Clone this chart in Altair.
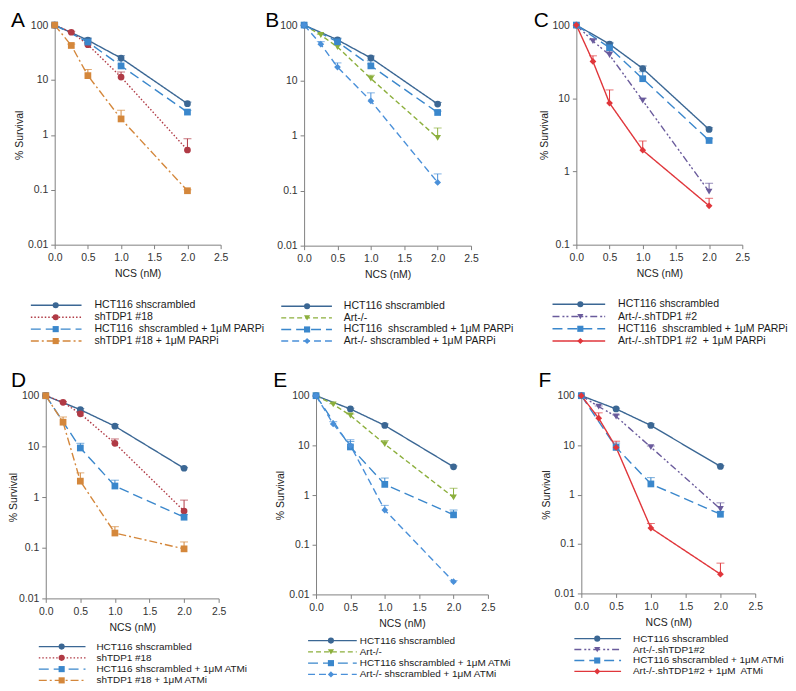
import altair as alt
import pandas as pd

# ---------------- data ----------------
X4 = [0.0, 0.5, 1.0, 2.0]
X5 = [0.0, 0.25, 0.5, 1.0, 2.0]
Y_TICKS = [0.01, 0.1, 1, 10, 100]
X_TICKS = [0.0, 0.5, 1.0, 1.5, 2.0, 2.5]

L_HCT = "HCT116 shscrambled"
L_TDP = "shTDP1 #18"
L_HCTP = "HCT116\u00a0 shscrambled + 1\u03bcM PARPi"
L_TDPP = "shTDP1 #18 + 1\u03bcM PARPi"
L_ART = "Art-/-"
L_ARTP = "Art-/- shscrambled + 1\u03bcM PARPi"
L_ATDP = "Art-/-.shTDP1 #2"
L_ATDPP = "Art-/-.shTDP1 #2\u00a0 + 1\u03bcM PARPi"
L_HCTA = "HCT116 shscrambled + 1\u03bcM ATMi"
L_TDPA = "shTDP1 #18 + 1\u03bcM ATMi"
L_ARTA = "Art-/- shscrambled + 1\u03bcM ATMi"
L_ATDP2 = "Art-/-.shTDP1#2"
L_ATDPA = "Art-/-.shTDP1#2 + 1\u03bcM\u00a0 ATMi"

# Panel A
A_hct = [100, 53, 25, 3.7];            A_hct_up = [100, 58, 27.5, 3.95]
A_tdp = [100, 74, 44, 11.3, 0.53];     A_tdp_up = [100, 77, 47, 14, 0.85]
A_hctp = [100, 49, 18, 2.6];           A_hctp_up = [100, 56, 22.5, 2.8]
A_tdpp = [100, 42.5, 12, 1.95, 0.096]; A_tdpp_up = [100, 45, 15.5, 2.8, 0.1]
# Panel B
B_hct = [100, 54, 25.3, 3.7];          B_hct_up = [100, 58, 27.5, 3.95]
B_art = [100, 66, 40, 10.7, 0.9];      B_art_up = [100, 68, 44, 12.3, 1.36]
B_hctp = [100, 49.7, 18.2, 2.6];       B_hctp_up = [100, 56, 22.5, 2.75]
B_artp = [100, 45, 17.3, 4.2, 0.14];   B_artp_up = [100, 50, 20.6, 5.9, 0.2]
# Panel C
C_hct = [100, 55, 25.5, 3.75];         C_hct_up = [100, 58, 27.5, 3.95]
C_atdp = [100, 60.5, 39, 9.3, 0.53];   C_atdp_up = [100, 63, 44, 10, 0.69]
C_hctp = [100, 49, 18.5, 2.65];        C_hctp_up = [100, 56, 23, 2.8]
C_atdpp = [100, 31.8, 8.6, 1.95, 0.34]; C_atdpp_up = [100, 38, 13, 2.6, 0.43]
# Panel D
D_hct = [100, 53, 25, 3.7];            D_hct_up = [100, 56, 27, 3.85]
D_tdp = [100, 74, 44, 11.5, 0.53];     D_tdp_up = [100, 77, 47, 14, 0.87]
D_hcta = [100, 9.3, 1.65, 0.4];        D_hcta_up = [100, 11.5, 2.15, 0.45]
D_tdpa = [100, 30, 2.06, 0.195, 0.095]; D_tdpa_up = [100, 38, 3.0, 0.26, 0.13]
# Panel E
E_hct = [100, 54, 25.2, 3.7];          E_hct_up = [100, 56, 27, 3.85]
E_art = [100, 67, 40, 10.6, 0.9];      E_art_up = [100, 69, 43, 12.5, 1.37]
E_hcta = [100, 9.3, 1.64, 0.4];        E_hcta_up = [100, 12, 2.2, 0.5]
E_arta = [100, 27, 10, 0.5, 0.018];    E_arta_up = [100, 30, 13, 0.62, 0.019]
# Panel F
F_hct = [100, 54, 25, 3.7];            F_hct_up = [100, 56, 27, 3.85]
F_atdp = [100, 60, 38, 9.1, 0.51];     F_atdp_up = [100, 62, 41, 9.6, 0.68]
F_hcta = [100, 9.0, 1.64, 0.4];        F_hcta_up = [100, 11, 2.2, 0.45]
F_atdpa = [100, 35, 9, 0.21, 0.0245];  F_atdpa_up = [100, 45, 12, 0.26, 0.041]

# ---------------- styles ----------------
STY = {
    "hct":  dict(color="#3b6794", dash=[1, 0], shape="circle"),
    "tdp":  dict(color="#b03a45", dash=[1.5, 2], shape="circle"),
    "hctp": dict(color="#3a87cc", dash=[10, 5], shape="square"),
    "tdpp": dict(color="#d4873b", dash=[8, 3, 2, 3], shape="square"),
    "art":  dict(color="#8caf3c", dash=[5, 3], shape="triangle-down"),
    "artp": dict(color="#4a90d9", dash=[7, 4], shape="diamond"),
    "atdp": dict(color="#6a5b9c", dash=[7, 3, 2, 2, 2, 3], shape="triangle-down"),
    "atdpp": dict(color="#e0363b", dash=[1, 0], shape="diamond"),
}
KEYS = list(STY.keys())
FONT = "Liberation Sans"

COLOR = alt.Color("s:N", scale=alt.Scale(domain=KEYS, range=[STY[k]["color"] for k in KEYS]), legend=None)
DASH = alt.StrokeDash("s:N", scale=alt.Scale(domain=KEYS, range=[STY[k]["dash"] for k in KEYS]), legend=None)
SHAPE = alt.Shape("s:N", scale=alt.Scale(domain=KEYS, range=[STY[k]["shape"] for k in KEYS]), legend=None)


def panel(letter, spec, ymin, w, h, ytitle, leg, letter_xy, tpad=3):
    keys, labels, rows = [], [], []
    for i, (key, label, xs, ys, ups) in enumerate(spec):
        keys.append(key)
        labels.append(label)
        for x, y, u in zip(xs, ys, ups):
            rows.append({"s": key, "o": i, "x": x, "y": y, "u": u})
    df = pd.DataFrame(rows)

    xenc = alt.X("x:Q", scale=alt.Scale(domain=[0, 2.5], nice=False, zero=False),
                 axis=alt.Axis(values=X_TICKS, format=".1f", grid=False, labelFlush=False),
                 title="NCS (nM)")
    ysc = alt.Scale(type="log", domain=[ymin, 100], nice=False)
    yaxis = alt.Axis(values=[v for v in Y_TICKS if v >= ymin], format="~g", grid=False,
                     titlePadding=tpad, labelPadding=3)
    ttl = "% Survival" if ytitle else ""

    def Y(f):
        return alt.Y(f, scale=ysc, axis=yaxis, title=ttl)

    base = alt.Chart(df)
    lines = base.mark_line(strokeWidth=1.4).encode(
        x=xenc, y=Y("y:Q"), color=COLOR, strokeDash=DASH, detail="s:N")
    err = base.transform_filter("datum.u > datum.y").mark_rule(strokeWidth=1).encode(
        x=xenc, y=Y("y:Q"), y2="u:Q", color=COLOR)
    cap = base.transform_filter("datum.u > datum.y").mark_tick(
        orient="horizontal", size=8, thickness=1).encode(x=xenc, y=Y("u:Q"), color=COLOR)
    pts = base.mark_point(filled=True, size=46, opacity=1).encode(
        x=xenc, y=Y("y:Q"), color=COLOR, shape=SHAPE)
    main = alt.layer(lines, err, cap, pts)

    ldf = pd.DataFrame({"s": keys, "label": labels, "r": list(range(len(keys)))})
    lx0, lx1, lm, lt, ly0, ly1, lfs = leg
    ly = alt.Y("r:Q", scale=alt.Scale(domain=[0, len(keys) - 1], range=[ly0, ly1]), axis=None)
    lbase = alt.Chart(ldf)
    lrule = lbase.mark_rule(strokeWidth=1.4).encode(
        x=alt.value(lx0), x2=alt.value(lx1), y=ly, color=COLOR, strokeDash=DASH)
    lpt = lbase.mark_point(filled=True, size=38, opacity=1).encode(
        x=alt.value(lm), y=ly, color=COLOR, shape=SHAPE)
    ltxt = lbase.mark_text(align="left", baseline="middle", fontSize=lfs, font=FONT, color="#1a1a1a").encode(
        x=alt.value(lt), y=ly, text="label:N")
    legend = alt.layer(lrule, lpt, ltxt)

    let = alt.Chart(pd.DataFrame({"t": [letter]})).mark_text(
        align="left", baseline="top", fontSize=21, font=FONT, color="#000").encode(
        x=alt.value(letter_xy[0]), y=alt.value(letter_xy[1]), text="t:N")

    return alt.layer(main, legend, let).resolve_scale(y="independent").properties(width=w, height=h)


def spacer(w):
    return alt.Chart(pd.DataFrame({"a": [0]})).mark_point(opacity=0).properties(width=w, height=10)


A = panel("A", [("hct", L_HCT, X4, A_hct, A_hct_up), ("tdp", L_TDP, X5, A_tdp, A_tdp_up),
                ("hctp", L_HCTP, X4, A_hctp, A_hctp_up), ("tdpp", L_TDPP, X5, A_tdpp, A_tdpp_up)],
          0.01, 167, 221, True, (-24, 27, 1, 40, 282, 318, 10.6), (-44, -15))
B = panel("B", [("hct", L_HCT, X4, B_hct, B_hct_up), ("art", L_ART, X5, B_art, B_art_up),
                ("hctp", L_HCTP, X4, B_hctp, B_hctp_up), ("artp", L_ARTP, X5, B_artp, B_artp_up)],
          0.01, 168, 222, False, (-23, 28, 3, 40, 283, 318, 10.6), (-39, -15))
C = panel("C", [("hct", L_HCT, X4, C_hct, C_hct_up), ("atdp", L_ATDP, X5, C_atdp, C_atdp_up),
                ("hctp", L_HCTP, X4, C_hctp, C_hctp_up), ("atdpp", L_ATDPP, X5, C_atdpp, C_atdpp_up)],
          0.1, 167, 221, True, (-24, 29, 4, 42, 281, 318, 10.6), (-43, -15))
D = panel("D", [("hct", L_HCT, X4, D_hct, D_hct_up), ("tdp", L_TDP, X5, D_tdp, D_tdp_up),
                ("hctp", L_HCTA, X4, D_hcta, D_hcta_up), ("tdpp", L_TDPA, X5, D_tdpa, D_tdpa_up)],
          0.01, 174, 204, True, (-7, 40, 16, 51, 252.5, 286.5, 10), (-35, -26), tpad=0)
E = panel("E", [("hct", L_HCT, X4, E_hct, E_hct_up), ("art", L_ART, X5, E_art, E_art_up),
                ("hctp", L_HCTA, X4, E_hcta, E_hcta_up), ("artp", L_ARTA, X5, E_arta, E_arta_up)],
          0.01, 173, 200, True, (-8, 41, 15, 44, 246.5, 280.5, 10), (-43, -26))
F = panel("F", [("hct", L_HCT, X4, F_hct, F_hct_up), ("atdp", L_ATDP2, X5, F_atdp, F_atdp_up),
                ("hctp", L_HCTA, X4, F_hcta, F_hcta_up), ("atdpp", L_ATDPA, X5, F_atdpa, F_atdpa_up)],
          0.01, 175, 199, True, (-7, 40, 16, 52, 244.5, 277.5, 10), (-43, -26))

row1 = alt.hconcat(spacer(9), A, spacer(84), B, spacer(106), C, spacing=0, bounds="flush")
row2 = alt.hconcat(D, spacer(98), E, spacer(94), F, spacing=0, bounds="flush")

chart = alt.vconcat(row1, row2, spacing=373, bounds="flush").properties(padding=0).configure_view(
    strokeWidth=0
).configure_axis(
    domainColor="#808080", tickColor="#808080", tickSize=4, labelPadding=4,
    labelColor="#333333", labelFont=FONT, labelFontSize=10.5,
    titleFont=FONT, titleFontSize=10.5, titleFontWeight="normal", titleColor="#222222",
    grid=False
).configure_axisX(titlePadding=6)

chart.save("out.html", embed_options={"renderer": "svg", "actions": False})
